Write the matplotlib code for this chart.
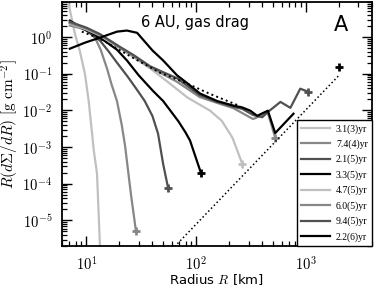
import numpy as np
import matplotlib
matplotlib.use('Agg')
import matplotlib.pyplot as plt
from matplotlib.ticker import FuncFormatter, LogLocator, NullFormatter, FixedLocator

plt.rcParams['mathtext.fontset'] = 'cm'
plt.rcParams['font.family'] = 'DejaVu Sans'

nan = np.nan

# 曲线数据 (半径 km, R dΣ/dR)
labels = ['3.1(3)yr', '7.4(4)yr', '2.1(5)yr', '3.3(5)yr',
          '4.7(5)yr', '6.0(5)yr', '9.4(5)yr', '2.2(6)yr']
colors = ['#c0c0c0', '#878787', '#505050', '#000000',
          '#c0c0c0', '#878787', '#505050', '#000000']

r1 = [6.9, 7.2, 7.85, 8.7, 9.7, 10.5, 11.7, 12.5, 13.3, 13.6]
s1 = [8.0, 4.3, 1.24, 0.425, 0.1, 0.018, 7.8e-4, 1.9e-4, 2e-6, 5e-7]

r2 = [7.07, 10, 12, 13.5, 15.4, 17, 19, 21, 22.5, 23.4, 25.5, 28.3]
s2 = [2.05, 1.6, 0.95, 0.45, 0.14, 0.05, 0.018, 0.004, 1.1e-3, 4.2e-4, 5e-5, 5.1e-6]

r3 = [7.07, 10, 13.3, 16, 19, 24, 29, 34, 40, 45, 50, 55.5]
s3 = [2.47, 1.5, 0.8, 0.4, 0.2, 0.08, 0.036, 0.018, 0.007, 2.3e-3, 3.5e-4, 7.7e-5]

r4 = [7.07, 9, 11.5, 15, 19, 23.4, 30, 40.4, 50, 58, 69, 80, 88, 111]
s4 = [2.8, 1.8, 1.24, 0.75, 0.45, 0.23, 0.09, 0.034, 0.018, 0.01, 5e-3, 2.5e-3, 1.5e-3, 1.9e-4]

r5 = [7.07, 10, 13.3, 20, 26, 38, 55, 84, 134, 171, 214, 263]
s5 = [2.3, 1.6, 1.1, 0.5, 0.3, 0.14, 0.06, 0.022, 0.0098, 0.0052, 0.0018, 3.5e-4]

r6 = [7.07, 10, 13.3, 20, 27, 38, 67, 108, 155, 218, 330, 450, 525]
s6 = [2.4, 1.7, 1.15, 0.52, 0.3, 0.15, 0.06, 0.023, 0.016, 0.0115, 0.0058, 0.0085, 0.0018]

r7 = [7.07, 10, 13.3, 20, 27, 38, 50, 67, 108, 155, 218, 263, 330, 400, 450, 586, 722, 888, 1050]
s7 = [2.6, 1.8, 1.2, 0.55, 0.32, 0.16, 0.11, 0.075, 0.026, 0.017, 0.0125, 0.011, 0.0075, 0.0065,
      0.009, 0.017, 0.0117, 0.039, 0.032]

r8 = [7.07, 9.7, 13.3, 19, 23.4, 29, 40, 50, 67, 83, 108, 155, 218, 263, 311, 360, 450, 525, 770,
      nan, 2020]
s8 = [0.48, 0.7, 0.96, 1.4, 1.5, 1.3, 0.43, 0.23, 0.09, 0.055, 0.029, 0.018, 0.0135, 0.012, 0.0098,
      0.0071, 0.0098, 0.0024, 0.0081, nan, 0.155]

series_r = [r1, r2, r3, r4, r5, r6, r7, r8]
series_s = [s1, s2, s3, s4, s5, s6, s7, s8]
has_plus = [False, True, True, True, True, True, True, True]

# 虚线
dot1_r = [9.1, 13.3, 26.6, 46.9, 79.4, 134, 252]
dot1_s = [1.4, 0.9, 0.27, 0.106, 0.057, 0.028, 0.013]
dot2_r = [60, 2000]
dot2_s = [1.6e-6, 0.09]

xticks = [10, 100, 1000]
yticks = [1e-5, 1e-4, 1e-3, 1e-2, 1e-1, 1]

fig = plt.figure(figsize=(3.74, 2.91), dpi=100)
ax = fig.add_axes([0.1658, 0.1546, 0.8289, 0.8385])

for r, s, c, lab, p in zip(series_r, series_s, colors, labels, has_plus):
    ax.plot(r, s, color=c, lw=1.6, label=lab)
    if p:
        ax.plot(r[-1], s[-1], marker='+', color=c, ms=6, mew=2)

ax.plot(dot1_r, dot1_s, color='k', ls=':', lw=1.4)
ax.plot(dot2_r, dot2_s, color='k', ls=':', lw=1.1)

ax.set_xscale('log')
ax.set_yscale('log')
ax.set_xlim(6, 4000)
ax.set_ylim(2e-6, 9)

fmt = FuncFormatter(lambda v, p: r'$10^{%d}$' % round(np.log10(v)))
ax.xaxis.set_major_locator(FixedLocator(xticks))
ax.yaxis.set_major_locator(FixedLocator(yticks))
ax.xaxis.set_major_formatter(fmt)
ax.yaxis.set_major_formatter(fmt)
ax.yaxis.set_minor_locator(LogLocator(base=10, subs=np.arange(2, 10), numticks=20))
ax.xaxis.set_minor_formatter(NullFormatter())
ax.yaxis.set_minor_formatter(NullFormatter())
ax.tick_params(which='both', direction='in', top=True, right=True, labelsize=10.5)
ax.tick_params(which='major', length=7, width=1.0)
ax.tick_params(which='minor', length=3.5, width=0.9)
ax.tick_params(axis='y', pad=7)
ax.tick_params(axis='x', pad=6)
for sp in ax.spines.values():
    sp.set_linewidth(1.3)

ax.set_xlabel(r'Radius $R$ [km]', fontsize=9.5, labelpad=0)
ax.set_ylabel(r'$R(d\Sigma/dR)\ [{\rm g\ cm}^{-2}]$', fontsize=11, labelpad=1)

ax.text(0.43, 0.915, '6 AU, gas drag', transform=ax.transAxes, ha='center', va='center', fontsize=10.5)
ax.text(0.9, 0.905, 'A', transform=ax.transAxes, ha='center', va='center', fontsize=15)

leg = ax.legend(loc='lower right', borderaxespad=0, fancybox=False, framealpha=1,
                edgecolor='k', prop={'family': 'Liberation Serif', 'size': 7},
                handlelength=3.0, labelspacing=0.6, borderpad=0.45, handletextpad=0.6)
leg.get_frame().set_linewidth(1.0)

fig.savefig('out.png', dpi=100)
